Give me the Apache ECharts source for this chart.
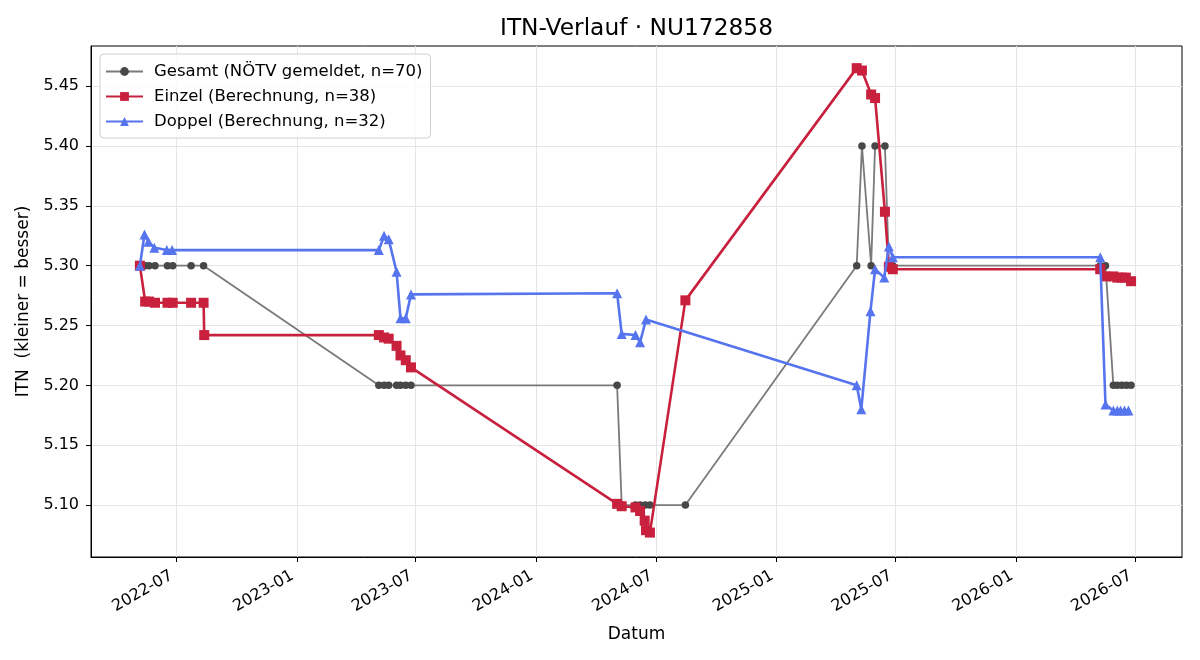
<!DOCTYPE html>
<html><head><meta charset="utf-8">
<script src="https://cdn.jsdelivr.net/npm/echarts@6/dist/echarts.min.js"></script>
<style>html,body{margin:0;padding:0;background:#fff}#c{width:1200px;height:660px}</style>
</head><body><div id="c"></div>
<script>
const titleText = 'ITN-Verlauf · NU172858';
const xAxisName = 'Datum';
const yAxisName = 'ITN  (kleiner = besser)';
const legendNames = ['Gesamt (NÖTV gemeldet, n=70)', 'Einzel (Berechnung, n=38)', 'Doppel (Berechnung, n=32)'];

const xTickDates = ['2022-07-01','2023-01-01','2023-07-01','2024-01-01','2024-07-01','2025-01-01','2025-07-01','2026-01-01','2026-07-01'];
const yTicks = [5.10, 5.15, 5.20, 5.25, 5.30, 5.35, 5.40, 5.45];
const xMin = '2022-02-21T12:00:00Z';
const xMax = '2026-09-10T14:00:00Z';
const yMin = 5.0566;
const yMax = 5.4835;

const gesamtDates = ['2022-05-07','2022-05-15','2022-05-21','2022-05-30','2022-06-18','2022-06-26','2022-07-24','2022-08-12',
  '2023-05-06','2023-05-14','2023-05-21','2023-06-02','2023-06-08','2023-06-16','2023-06-24',
  '2024-05-03','2024-05-10','2024-05-31','2024-06-07','2024-06-15','2024-06-22','2024-08-15',
  '2025-05-03','2025-05-11','2025-05-25','2025-05-31','2025-06-15','2025-06-21','2025-06-27',
  '2026-05-09','2026-05-17','2026-05-29','2026-06-04','2026-06-11','2026-06-18','2026-06-25'];
const gesamtValues = [5.30,5.30,5.30,5.30,5.30,5.30,5.30,5.30,
  5.20,5.20,5.20,5.20,5.20,5.20,5.20,
  5.20,5.10,5.10,5.10,5.10,5.10,5.10,
  5.30,5.40,5.30,5.40,5.40,5.30,5.30,
  5.30,5.30,5.20,5.20,5.20,5.20,5.20];

const einzelDates = ['2022-05-07','2022-05-15','2022-05-21','2022-05-30','2022-06-18','2022-06-26','2022-07-24','2022-08-12','2022-08-13',
  '2023-05-06','2023-05-14','2023-05-21','2023-06-02','2023-06-08','2023-06-16','2023-06-24',
  '2024-05-03','2024-05-10','2024-05-31','2024-06-07','2024-06-14','2024-06-16','2024-06-22',
  '2024-08-15',
  '2025-05-03','2025-05-11','2025-05-25','2025-05-31','2025-06-15','2025-06-21','2025-06-27',
  '2026-05-09','2026-05-17','2026-05-29','2026-06-04','2026-06-11','2026-06-17','2026-06-25'];
const einzelValues = [5.300,5.270,5.270,5.269,5.269,5.269,5.269,5.269,5.242,
  5.242,5.240,5.239,5.233,5.225,5.221,5.215,
  5.101,5.099,5.098,5.095,5.087,5.079,5.077,
  5.271,
  5.465,5.463,5.443,5.440,5.345,5.299,5.297,
  5.297,5.291,5.291,5.290,5.290,5.290,5.287];

const doppelDates = ['2022-05-07','2022-05-14','2022-05-20','2022-05-29','2022-06-17','2022-06-25',
  '2023-05-06','2023-05-14','2023-05-21','2023-06-02','2023-06-08','2023-06-16','2023-06-24',
  '2024-05-03','2024-05-10','2024-05-31','2024-06-07','2024-06-16',
  '2025-05-03','2025-05-10','2025-05-24','2025-05-31','2025-06-14','2025-06-21','2025-06-27',
  '2026-05-09','2026-05-17','2026-05-29','2026-06-04','2026-06-09','2026-06-15','2026-06-21'];
const doppelValues = [5.300,5.326,5.320,5.315,5.313,5.313,
  5.313,5.325,5.322,5.295,5.256,5.256,5.276,
  5.277,5.243,5.242,5.236,5.255,
  5.200,5.180,5.262,5.297,5.290,5.316,5.307,
  5.307,5.184,5.179,5.179,5.179,5.179,5.179];

const ts = s => Date.parse(s.indexOf('T') >= 0 ? s : s + 'T00:00:00Z');
const pairs = (ds, vs) => ds.map((d, i) => [ts(d), vs[i]]);
const xTickValues = xTickDates.map(ts);
const fmtDate = v => { const d = new Date(v); const m = d.getUTCMonth() + 1; return d.getUTCFullYear() + '-' + (m < 10 ? '0' : '') + m; };

const FONT = 'DejaVu Sans';
const chart = echarts.init(document.getElementById('c'), null, {renderer: 'canvas'});
chart.setOption({
  animation: false,
  backgroundColor: '#fff',
  textStyle: {fontFamily: FONT},
  graphic: [{type: 'text', x: 636.5, y: 28.5, style: {text: titleText, fontSize: 23.3, fontFamily: FONT, fill: '#000', align: 'center', verticalAlign: 'middle'}}],
  grid: {left: 91, right: 18, top: 46, bottom: 103, show: true, borderColor: '#000', borderWidth: 1, backgroundColor: 'transparent'},
  legend: {orient: 'vertical', left: 100, top: 54, itemWidth: 37, itemHeight: 11, itemGap: 8, padding: [9, 8, 8, 5],
    backgroundColor: 'rgba(255,255,255,0.85)', borderColor: '#d0d0d0', borderWidth: 1, borderRadius: 4,
    textStyle: {fontSize: 16.5, color: '#000', fontFamily: FONT, padding: [0, 0, 0, 6]},
    data: legendNames},
  xAxis: {type: 'value', min: ts(xMin), max: ts(xMax),
    name: xAxisName, nameLocation: 'middle', nameGap: 69, nameTextStyle: {fontSize: 17, color: '#000', fontFamily: FONT},
    axisLine: {show: true, lineStyle: {color: '#000', width: 1}},
    axisTick: {show: true, customValues: xTickValues, length: 5, lineStyle: {color: '#000', width: 1}},
    axisLabel: {customValues: xTickValues, rotate: 30, formatter: fmtDate, fontSize: 16, color: '#000', fontFamily: FONT, margin: 15, padding: [0, 5, 0, 0]},
    splitLine: {show: true, lineStyle: {color: '#e5e5e5', width: 1}}},
  yAxis: {type: 'value', min: yMin, max: yMax,
    name: yAxisName, nameLocation: 'middle', nameGap: 51, nameRotate: 90, nameTextStyle: {fontSize: 17, color: '#000', fontFamily: FONT},
    axisLine: {show: true, lineStyle: {color: '#000', width: 1}},
    axisTick: {show: true, customValues: yTicks, length: 5, lineStyle: {color: '#000', width: 1}},
    axisLabel: {customValues: yTicks, formatter: v => v.toFixed(2), fontSize: 16, color: '#000', fontFamily: FONT, margin: 12},
    splitLine: {show: true, lineStyle: {color: '#e5e5e5', width: 1}}},
  series: [
    {name: legendNames[0], type: 'line', data: pairs(gesamtDates, gesamtValues), symbol: 'circle', symbolSize: 7.5,
      lineStyle: {color: '#7a7a7a', width: 1.8}, itemStyle: {color: '#474747'}, z: 2},
    {name: legendNames[1], type: 'line', data: pairs(einzelDates, einzelValues), symbol: 'rect', symbolSize: 10,
      lineStyle: {color: '#c8203d', width: 2.6}, itemStyle: {color: '#c8203d'}, z: 3},
    {name: legendNames[2], type: 'line', data: pairs(doppelDates, doppelValues), symbol: 'triangle', symbolSize: 10,
      lineStyle: {color: '#5674ee', width: 2.6}, itemStyle: {color: '#5674ee'}, z: 4}
  ]
});
</script></body></html>
